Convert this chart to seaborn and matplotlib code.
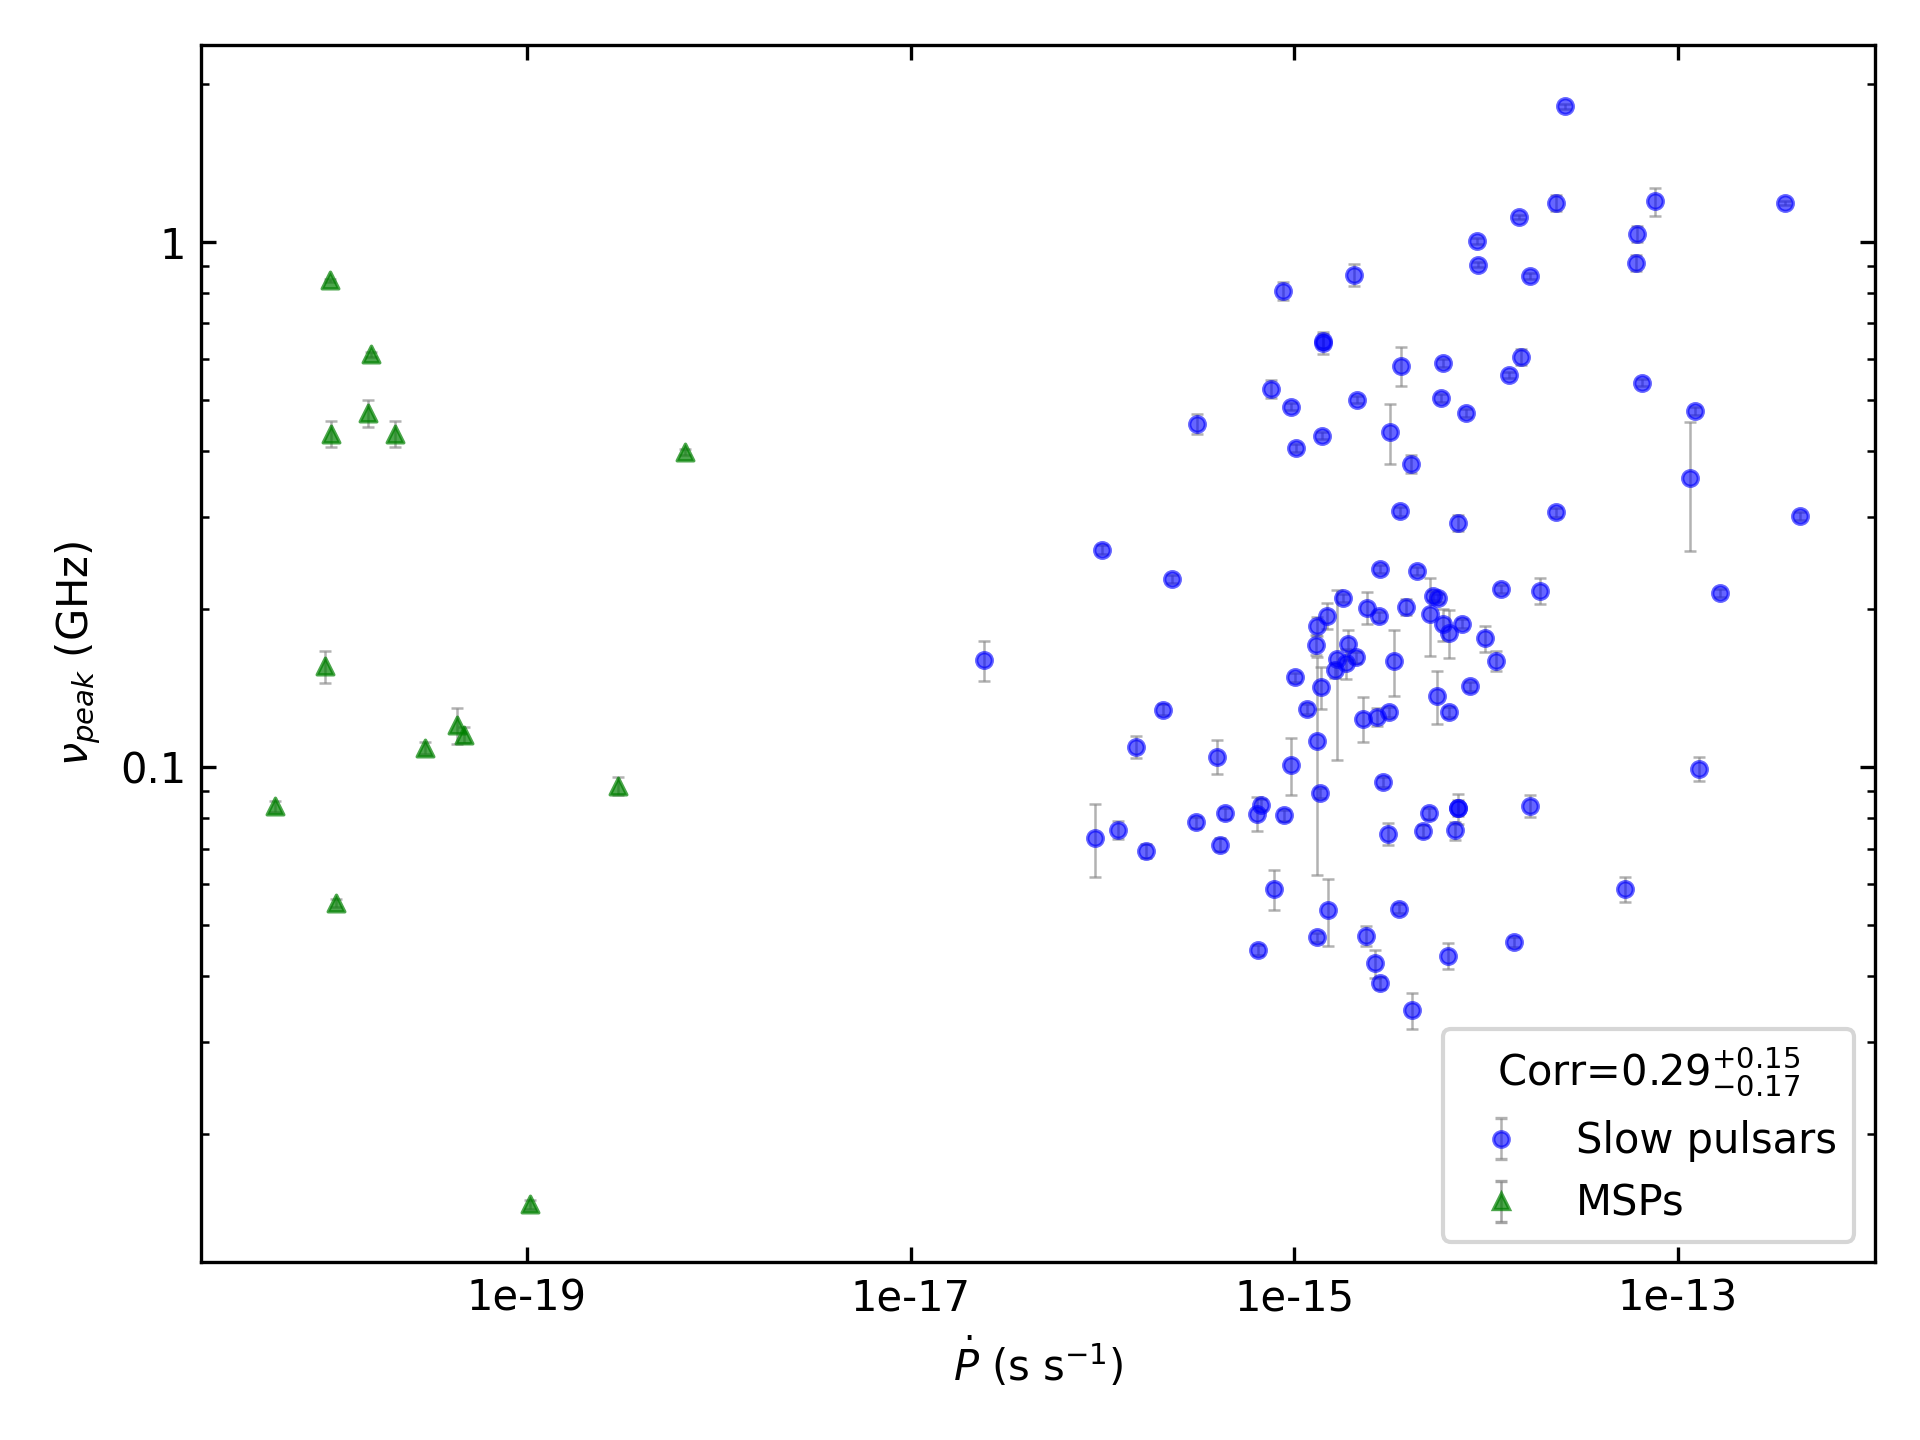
import numpy as np
import pandas as pd
import matplotlib
matplotlib.use('Agg')
import matplotlib.pyplot as plt
import matplotlib.ticker as ticker
import seaborn as sns

# Slow pulsars: Pdot (s/s), peak frequency (GHz), error on peak frequency
slow_pdot = [9.0e-15, 9.1e-15, 2.06e-15, 8.7e-16, 1.41e-15, 1.42e-15, 3.61e-15, 5.98e-15,
             7.6e-16, 9.65e-16, 2.13e-15, 5.83e-15, 7.85e-15, 3.16e-15, 3.12e-16, 1.02e-15,
             1.40e-15, 4.07e-15, 2.59e-14, 2.30e-14, 1.49e-14, 1.69e-14, 7.62e-14, 6.14e-14,
             6.05e-14, 3.63e-13, 1.52e-14, 1.32e-14, 6.50e-14, 1.23e-13, 1.15e-13, 2.30e-14,
             4.30e-13, 7.16e-15, 3.57e-15, 9.97e-17, 2.31e-16, 2.42e-17, 2.80e-15, 4.38e-15,
             1.79e-15, 1.49e-15, 1.32e-15, 1.30e-15, 1.91e-15, 1.67e-15, 1.64e-15, 1.87e-15,
             2.10e-15, 2.40e-15, 2.77e-15, 3.84e-15, 5.27e-15, 5.63e-15, 5.12e-15, 5.94e-15,
             6.43e-15, 7.48e-15, 9.86e-15, 1.12e-14, 1.20e-14, 1.92e-14, 1.66e-13, 8.27e-15,
             6.43e-15, 5.57e-15, 3.32e-15, 1.01e-15, 1.38e-15, 1.17e-15, 1.32e-15, 2.29e-15,
             2.69e-15, 3.12e-15, 1.36e-15, 9.65e-16, 3.97e-16, 1.50e-16, 2.07e-16, 2.91e-15,
             5.06e-15, 4.69e-15, 3.09e-15, 6.73e-16, 6.39e-16, 8.87e-16, 4.37e-16, 3.08e-16,
             1.21e-16, 9.17e-17, 1.69e-16, 4.11e-16, 6.90e-15, 7.16e-15, 7.10e-15, 1.70e-14,
             1.28e-13, 7.87e-16, 6.49e-16, 1.32e-15, 1.50e-15, 2.37e-15, 2.64e-15, 2.81e-15,
             4.12e-15, 3.53e-15, 6.31e-15, 5.32e-14, 1.39e-14]
slow_nu = [1.005, 0.905, 0.866, 0.807, 0.643, 0.648, 0.582, 0.589,
           0.526, 0.486, 0.501, 0.505, 0.473, 0.435, 0.451, 0.406,
           0.428, 0.378, 1.813, 1.188, 1.117, 0.862, 1.196, 1.037,
           0.913, 1.188, 0.605, 0.559, 0.540, 0.477, 0.356, 0.306,
           0.301, 0.292, 0.307, 0.2595, 0.2285, 0.160, 0.2387, 0.2366,
           0.2102, 0.1945, 0.1854, 0.1711, 0.1713, 0.1604, 0.153, 0.1576,
           0.1618, 0.2012, 0.1937, 0.2021, 0.2123, 0.2102, 0.196, 0.187,
           0.1803, 0.1878, 0.1759, 0.1595, 0.2187, 0.2168, 0.2149, 0.1425,
           0.1275, 0.1368, 0.1595, 0.1484, 0.1419, 0.1292, 0.1124, 0.1238,
           0.1248, 0.1275, 0.0894, 0.1011, 0.1047, 0.1094, 0.1287, 0.0938,
           0.0817, 0.0755, 0.0747, 0.0849, 0.0816, 0.0810, 0.0817, 0.0785,
           0.0760, 0.0734, 0.0693, 0.0712, 0.0758, 0.0835, 0.0838, 0.0845,
           0.0993, 0.0585, 0.0449, 0.0474, 0.0535, 0.0478, 0.0423, 0.0388,
           0.0345, 0.0538, 0.0437, 0.0585, 0.0465]
slow_err = [0.015, 0.010, 0.042, 0.032, 0.032, 0.020, 0.050, 0.010,
            0.021, 0.008, 0.008, 0.008, 0.008, 0.057, 0.020, 0.007,
            0.007, 0.015, 0.020, 0.042, 0.010, 0.010, 0.074, 0.036,
            0.032, 0.010, 0.021, 0.008, 0.008, 0.008, 0.098, 0.006,
            0.005, 0.010, 0.006, 0.005, 0.004, 0.014, 0.004, 0.004,
            0.004, 0.011, 0.0075, 0.0077, 0.0113, 0.057, 0.005, 0.0104,
            0.004, 0.014, 0.004, 0.007, 0.004, 0.004, 0.033, 0.013,
            0.019, 0.004, 0.010, 0.007, 0.004, 0.0124, 0.004, 0.003,
            0.003, 0.016, 0.023, 0.003, 0.013, 0.003, 0.050, 0.012,
            0.005, 0.003, 0.002, 0.0124, 0.0078, 0.0053, 0.003, 0.002,
            0.002, 0.002, 0.0037, 0.002, 0.006, 0.002, 0.002, 0.002,
            0.003, 0.0116, 0.002, 0.002, 0.003, 0.0055, 0.003, 0.0041,
            0.0053, 0.0051, 0.001, 0.001, 0.0078, 0.0021, 0.0026, 0.001,
            0.0027, 0.001, 0.0025, 0.0032, 0.001]

# MSPs
msp_pdot = [9.37e-21, 1.55e-20, 9.55e-21, 1.48e-20, 2.05e-20, 6.65e-19, 8.83e-21,
            2.95e-20, 4.31e-20, 4.68e-20, 2.97e-19, 4.90e-21, 1.01e-20, 1.04e-19]
msp_nu = [0.846, 0.611, 0.432, 0.473, 0.432, 0.398, 0.1558,
          0.1089, 0.1201, 0.1151, 0.0920, 0.0843, 0.0552, 0.01471]
msp_err = [0.006, 0.008, 0.025, 0.028, 0.025, 0.005, 0.011,
           0.003, 0.0094, 0.004, 0.0036, 0.002, 0.001, 0.0003]

x_ticks = [1e-19, 1e-17, 1e-15, 1e-13]
x_ticklabels = ['1e-19', '1e-17', '1e-15', '1e-13']
y_ticks = [0.1, 1]
y_ticklabels = ['0.1', '1']
corr_label = r'Corr=$0.29^{+0.15}_{-0.17}$'

slow = pd.DataFrame({'pdot': slow_pdot, 'nu': slow_nu, 'err': slow_err})
msp = pd.DataFrame({'pdot': msp_pdot, 'nu': msp_nu, 'err': msp_err})

plt.rcParams['font.family'] = ['DejaVu Sans']
plt.rcParams['font.size'] = 10

fig, ax = plt.subplots(figsize=(6.4, 4.8), dpi=300)
ax.set_xscale('log')
ax.set_yscale('log')

err_kw = dict(fmt='none', ecolor='gray', alpha=0.6, elinewidth=0.6,
              capsize=1.5, capthick=0.6, zorder=1)

# error bars first, then the points on top
ax.errorbar(slow['pdot'], slow['nu'], yerr=slow['err'], **err_kw)
ax.errorbar(msp['pdot'], msp['nu'], yerr=msp['err'], **err_kw)

sns.scatterplot(data=slow, x='pdot', y='nu', marker='o', s=14, color='blue',
                edgecolor='blue', linewidth=0.8, alpha=0.6, ax=ax, zorder=2, legend=False)
sns.scatterplot(data=msp, x='pdot', y='nu', marker='^', s=16, color='green',
                edgecolor='green', linewidth=0.8, alpha=0.7, ax=ax, zorder=2, legend=False)

# proxy handles so the legend shows marker + error bar
h_slow = ax.errorbar([np.nan], [np.nan], yerr=[np.nan], fmt='o', ms=3.7, mew=0.8,
                     color='blue', ecolor='gray', alpha=0.6, elinewidth=0.6,
                     capsize=1.5, capthick=0.6, label='Slow pulsars')
h_msp = ax.errorbar([np.nan], [np.nan], yerr=[np.nan], fmt='^', ms=4.0, mew=0.8,
                    color='green', ecolor='gray', alpha=0.7, elinewidth=0.6,
                    capsize=1.5, capthick=0.6, label='MSPs')

ax.set_xlim(2.0e-21, 1.06e-12)
ax.set_ylim(0.0114, 2.37)

ax.xaxis.set_major_locator(ticker.FixedLocator(x_ticks))
ax.xaxis.set_major_formatter(ticker.FixedFormatter(x_ticklabels))
ax.xaxis.set_minor_locator(ticker.NullLocator())
ax.yaxis.set_major_locator(ticker.FixedLocator(y_ticks))
ax.yaxis.set_major_formatter(ticker.FixedFormatter(y_ticklabels))
ax.yaxis.set_minor_locator(ticker.LogLocator(base=10, subs=np.arange(2, 10)))
ax.yaxis.set_minor_formatter(ticker.NullFormatter())
ax.tick_params(which='both', direction='in', top=True, right=True)

ax.set_xlabel(r'$\dot{P}$ (s s$^{-1}$)')
ax.set_ylabel(r'$\nu_{peak}$ (GHz)')

ax.legend(handles=[h_slow, h_msp], title=corr_label, loc='lower right')

fig.subplots_adjust(left=0.1046, right=0.9764, top=0.9685, bottom=0.1233)
fig.savefig('out.png', dpi=300)
